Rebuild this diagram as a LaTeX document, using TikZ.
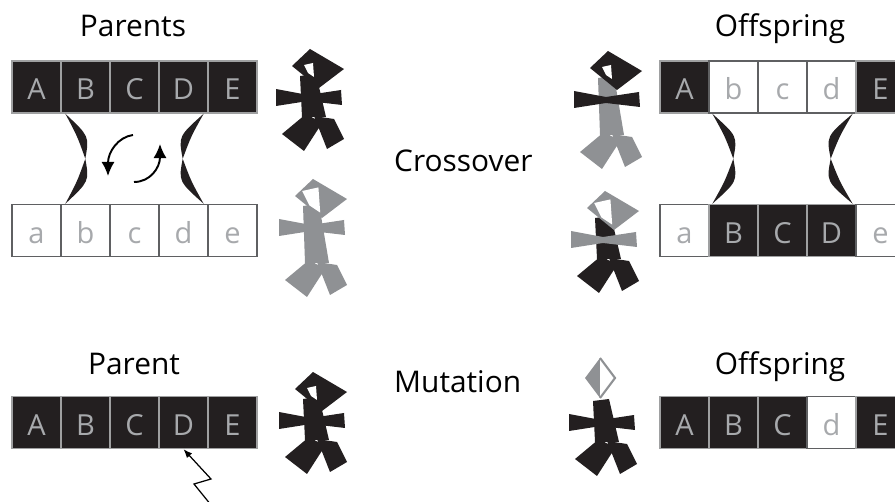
\documentclass[tikz,border=0pt]{standalone}
\usepackage{fontspec}
\setmainfont{Open Sans}
\usetikzlibrary{calc,arrows.meta}
\tikzset{>={Latex[length=8pt,width=7.5pt]}}
\definecolor{geneblack}{RGB}{35,31,32}
\definecolor{genegray}{RGB}{167,169,172}
\definecolor{figgray}{RGB}{143,145,148}
\definecolor{boxline}{RGB}{95,96,98}
\tikzset{
  gene/.style={minimum width=0.98cm,minimum height=1.04cm,inner sep=0pt,
    text height=14.8pt,text depth=0pt,text=genegray,line width=0.8pt,
    font=\fontsize{16.5}{19}\selectfont},
  genedark/.style={gene,fill=geneblack,draw=boxline!60},
  genelight/.style={gene,fill=white,draw=boxline},
  heading/.style={anchor=base,font=\fontsize{17}{20}\selectfont},
}
% crossover link: top anchor, bottom anchor, x offset, bulge
\def\pinch#1#2#3#4{%
  \path ($(#1)+(#3,0)$) coordinate (lk1) ($(#2)+(#3,0)$) coordinate (lk2)
    ($(lk1)!0.5!(lk2)+(#4,0)$) coordinate (lkm);
  \fill[geneblack] (lk1) .. controls ($(lk1)!0.5!(lkm)+(#4*0.7,0)$) .. (lkm)
    .. controls ($(lk1)!0.5!(lkm)+(#4/10,0)$) .. (lk1) -- cycle;
  \fill[geneblack] (lkm) .. controls ($(lkm)!0.5!(lk2)+(#4*0.7,0)$) .. (lk2)
    .. controls ($(lkm)!0.5!(lk2)+(#4/10,0)$) .. (lkm) -- cycle;}
% little men: neck point, colour, body length / hole size
\def\stickbody#1#2#3{%
  \begin{scope}[shift={(#1)}]
    \fill[#2] (-10,-4) -- (6,-6) -- (16,#3) -- (-8,#3) -- cycle;
    \fill[#2,shift={(0,#3)}] (-4,-3) -- (12,6) -- (-6,34) -- (-28,17) -- cycle
      (4,-1) -- (24,2) -- (34,22) -- (17,32) -- cycle;
  \end{scope}}
\def\stickarms#1#2{%
  \fill[#2,shift={(#1)}] (-34,9) -- (-2,15) -- (31,10) -- (32,25) -- (-2,21)
    -- (-34,26) -- cycle;}
\def\stickhead#1#2#3{%
  \begin{scope}[shift={(#1)}]
    \fill[#2] (0,-31) -- (34,-11) -- (9,8) -- (-18,-14) -- cycle;
    \fill[white,shift={(0,-10)},scale=#3] (-6,-5) -- (3,-7) -- (4,7) -- (-2,3) -- cycle;
  \end{scope}}

\begin{document}
\begin{tikzpicture}[x=0.02cm,y=-0.02cm]
  \useasboundingbox (0,0) rectangle (895,502);

  % parents
  \node[heading] (parents) at (133,37) {Parents};
  \foreach \g [count=\i] in {A,B,C,D,E}
    \node[genedark] (pa\i) at ({36.5+49*(\i-1)},87) {\g};
  \foreach \g [count=\i] in {a,b,c,d,e}
    \node[genelight] (pb\i) at ({36.5+49*(\i-1)},230.5) {\g};
  \pinch{pa2.south west}{pb2.north west}{5}{20}
  \pinch{pa4.south east}{pb4.north east}{-5}{-21}

  % swap arrows
  \coordinate (swapA) at (133,135);
  \coordinate (swapB) at (108,176);
  \coordinate (swapC) at (134,182);
  \coordinate (swapD) at (160,144);
  \draw[->,line width=1.1pt] (swapA) .. controls (118,137) and (108,152) .. (swapB);
  \draw[->,line width=1.1pt] (swapC) .. controls (150,182) and (160,168) .. (swapD);

  \stickbody{310,80}{geneblack}{37}
  \stickarms{310,80}{geneblack}
  \stickhead{310,80}{geneblack}{1}
  \stickbody{313,210}{figgray}{53}
  \stickarms{313,210}{figgray}
  \stickhead{313,210}{figgray}{1.8}

  \node[heading,anchor=base west] (crossover) at (388,172) {Crossover};

  % offspring
  \node[heading] (offspring) at (780,37) {Offspring};
  \foreach \g/\s [count=\i] in {A/genedark,b/genelight,c/genelight,d/genelight,E/genedark}
    \node[\s] (oa\i) at ({684.5+49*(\i-1)},87) {\g};
  \foreach \g/\s [count=\i] in {a/genelight,B/genedark,C/genedark,D/genedark,e/genelight}
    \node[\s] (ob\i) at ({684.5+49*(\i-1)},230.5) {\g};
  \pinch{oa2.south west}{ob2.north west}{4}{21}
  \pinch{oa4.south east}{ob4.north east}{-4}{-22}

  \stickbody{608,82}{figgray}{53}
  \stickarms{608,82}{geneblack}
  \stickhead{608,82}{geneblack}{1}
  \stickbody{605,222}{geneblack}{37}
  \stickarms{605,222}{figgray}
  \stickhead{605,222}{figgray}{1.8}

  % mutation
  \node[heading] (parent) at (134,375) {Parent};
  \foreach \g [count=\i] in {A,B,C,D,E}
    \node[genedark] (mp\i) at ({36.5+49*(\i-1)},422.5) {\g};
  \coordinate (bolt) at (211,505);
  \draw[-{Latex[length=5pt,width=4pt]},line width=0.7pt]
    (bolt) -- (194,484) -- (211,479) -- (mp4.south);

  \stickbody{313,403}{geneblack}{37}
  \stickarms{313,403}{geneblack}
  \stickhead{313,403}{geneblack}{1}

  \node[heading,anchor=base west] (mutation) at (388,393) {Mutation};

  \node[heading] (offspringm) at (780,375) {Offspring};
  \foreach \g/\s [count=\i] in {A/genedark,B/genedark,C/genedark,d/genelight,E/genedark}
    \node[\s] (mo\i) at ({684.5+49*(\i-1)},422.5) {\g};

  \stickbody{603,405}{geneblack}{37}
  \stickarms{603,405}{geneblack}
  % mutated head, half filled
  \fill[figgray] (600,358) -- (585,378) -- (600,398) -- cycle;
  \draw[figgray,fill=white,line width=1.2pt,line join=miter]
    (600,358) -- (615,378) -- (600,398);
\end{tikzpicture}
\end{document}
